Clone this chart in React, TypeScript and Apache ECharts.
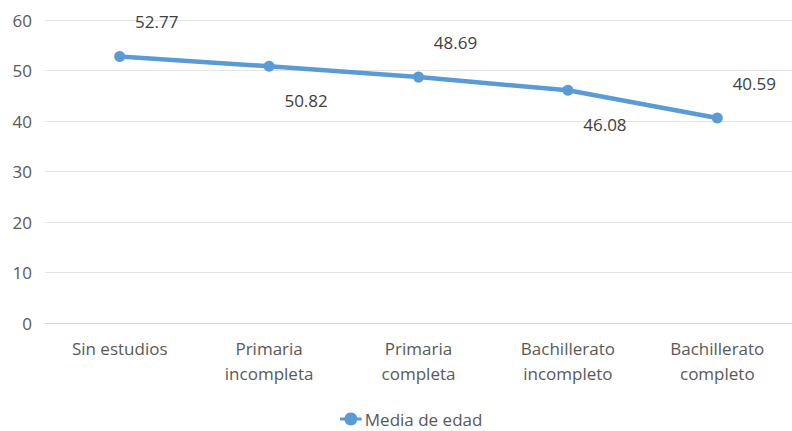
import React, { useEffect, useRef } from "react";
import * as echarts from "echarts";

const categories = [
  "Sin estudios",
  "Primaria\nincompleta",
  "Primaria\ncompleta",
  "Bachillerato\nincompleto",
  "Bachillerato\ncompleto",
];
const mediaEdad = [52.77, 50.82, 48.69, 46.08, 40.59];
const labelBelow = [false, true, false, true, false];
const yTicks = [0, 10, 20, 30, 40, 50, 60];

const legendIcon =
  "path://M0,4.5 H4.19 A6,6 0 0 1 15.81,4.5 H20 V7.5 H15.81 A6,6 0 0 1 4.19,7.5 H0 Z";

export default function App() {
  const ref = useRef<HTMLDivElement>(null);
  useEffect(() => {
    if (!ref.current) return;
    const chart = echarts.init(ref.current, null, { renderer: "svg" });
    const font = "'Open Sans', sans-serif";
    const fs = 17;
    chart.setOption({
      animation: false,
      textStyle: { fontFamily: font },
      grid: { left: 45, right: -3, top: 20, bottom: 108 },
      legend: {
        top: 409,
        left: 340,
        padding: 0,
        data: [{ name: "Media de edad", icon: legendIcon }],
        itemWidth: 22,
        itemHeight: 13,
        itemGap: 5,
        textStyle: { color: "#595959", fontSize: fs, lineHeight: 20, fontFamily: font, padding: [0, 0, 0, -2] },
      },
      xAxis: {
        type: "category",
        data: categories,
        boundaryGap: true,
        axisLine: { lineStyle: { color: "#d9d9d9", width: 1 } },
        axisTick: { show: false },
        axisLabel: { color: "#595959", fontSize: fs, lineHeight: 25, margin: 13, fontFamily: font },
      },
      yAxis: {
        type: "value",
        min: yTicks[0],
        max: yTicks[yTicks.length - 1],
        interval: 10,
        axisLine: { show: false },
        axisTick: { show: false },
        splitLine: { lineStyle: { color: "#e3e3e3", width: 1 } },
        axisLabel: { color: "#595959", fontSize: fs, margin: 13, fontFamily: font },
      },
      series: [
        {
          name: "Media de edad",
          type: "line",
          data: mediaEdad.map((v, i) => ({
            value: v,
            label: {
              show: true,
              position: "inside",
              offset: [37, labelBelow[i] ? 34 : -35],
              formatter: (p: any) => p.value.toFixed(2),
              color: "#404040",
              fontSize: fs,
              fontFamily: font,
            },
          })),
          symbol: "circle",
          symbolSize: 11,
          lineStyle: { color: "#5b9bd5", width: 4.5 },
          itemStyle: { color: "#5b9bd5" },
        },
      ],
    });
    return () => chart.dispose();
  }, []);
  return (
    <div
      ref={ref}
      style={{ position: "fixed", left: 0, top: 0, width: 792, height: 431, background: "#fff" }}
    />
  );
}
